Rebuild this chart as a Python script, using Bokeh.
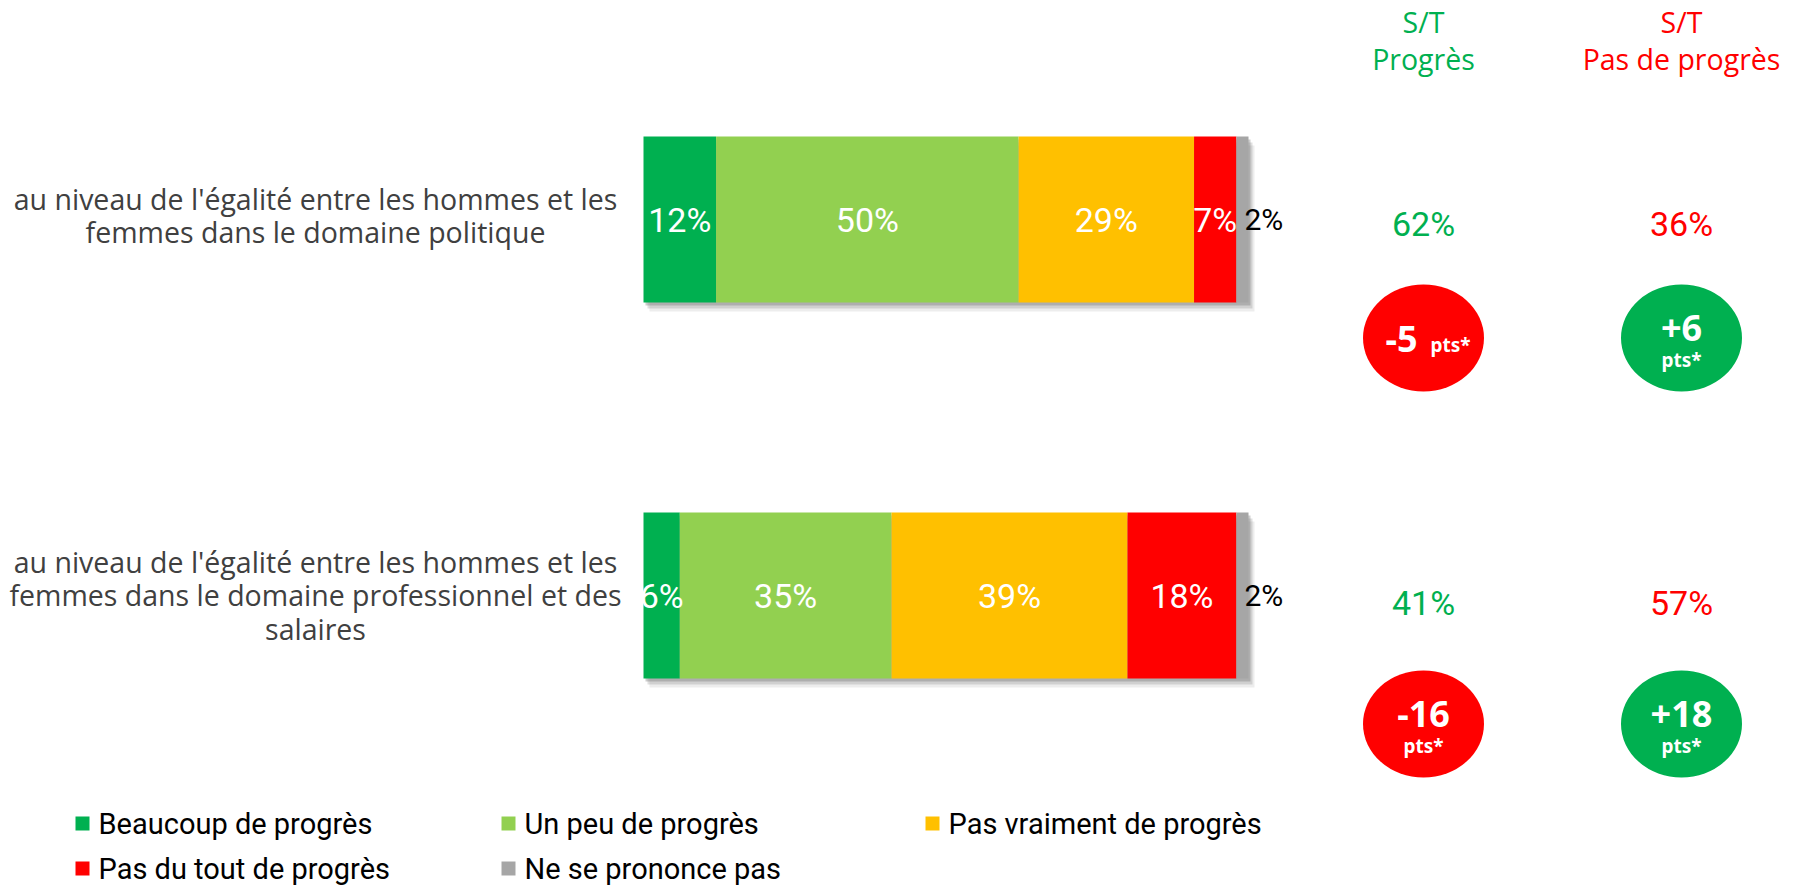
import numpy as np
from bokeh.plotting import figure
from bokeh.models import Range1d
from bokeh.embed import file_html
from bokeh.resources import INLINE
from bokeh.core.properties import value

# ---------------- data ----------------
categories = [
    "au niveau de l'égalité entre les hommes et les\nfemmes dans le domaine politique",
    "au niveau de l'égalité entre les hommes et les\nfemmes dans le domaine professionnel et des\nsalaires",
]
series_names = ["Beaucoup de progrès", "Un peu de progrès", "Pas vraiment de progrès",
                "Pas du tout de progrès", "Ne se prononce pas"]
beaucoup = [12, 6]
un_peu = [50, 35]
pas_vraiment = [29, 39]
pas_du_tout = [7, 18]
nsp = [2, 2]
st_progres = [62, 41]
st_pas_progres = [36, 57]
evol_progres = [-5, -16]
evol_pas_progres = [6, 18]
header_top = ["S/T", "S/T"]
header_bottom = ["Progrès", "Pas de progrès"]

# ---------------- styles ----------------
colors = ["#00B050", "#92D050", "#FFC000", "#FF0000", "#A6A6A6"]
GREEN = "#00B050"
RED = "#FF0000"
NARROW = "Roboto"
BODY = "Open Sans"
BOLD = "Noto Sans"

W, H = 1798, 886
X0, PXPCT = 643.0, 6.05      # pixel of 0 %, pixels per percent
Y0, ROWPX = 219.0, 376.0     # pixel of first row centre, pixels per row
BAR_H = 166.0 / ROWPX


def dx(px):
    return (px - X0) / PXPCT


def dy(py):
    return (py - Y0) / ROWPX


p = figure(width=W, height=H, x_range=Range1d(dx(0), dx(W)), y_range=Range1d(dy(H), dy(0)),
           output_backend="svg", toolbar_location=None, min_border=0,
           x_axis_type=None, y_axis_type=None)
p.grid.visible = False
p.outline_line_color = None
p.background_fill_color = "white"
p.border_fill_color = "white"

rows = np.arange(len(categories), dtype=float)
series = np.array([beaucoup, un_peu, pas_vraiment, pas_du_tout, nsp], dtype=float)
rights = np.cumsum(series, axis=0)
lefts = rights - series
totals = rights[-1]

# drop shadow
for ox, oy, a in [(2, 3, 0.35), (4, 6, 0.22), (6, 9, 0.12)]:
    p.hbar(y=rows + oy / ROWPX, left=np.zeros_like(totals) + ox / PXPCT, right=totals + ox / PXPCT,
           height=BAR_H, fill_color="#6F6F6F", fill_alpha=a, line_color=None)

# stacked segments
for i in range(len(series)):
    p.hbar(y=rows, left=lefts[i], right=rights[i], height=BAR_H,
           fill_color=colors[i], line_color=None)

# segment labels
for i in range(len(series) - 1):
    p.text(x=(lefts[i] + rights[i]) / 2, y=rows,
           text=[f"{int(v)}%" for v in series[i]],
           text_color="white", text_font=value(NARROW), text_font_size="34px",
           text_align="center", text_baseline="middle")
p.text(x=rights[-1], y=rows, x_offset=-4, text=[f"{int(v)}%" for v in series[-1]],
       text_color="black", text_font=value(NARROW), text_font_size="30px",
       text_align="left", text_baseline="middle")

# category labels
p.text(x=[dx(315)] * len(rows), y=rows - np.array([4.0, 0.0]) / ROWPX, text=categories,
       text_color="#404040", text_font=value(BODY), text_font_size="28.5px",
       text_align="center", text_baseline="middle", text_line_height=0.876)

# right columns
COL1, COL2 = dx(1423), dx(1681)
head_cols = [GREEN, RED]
p.text(x=[COL1, COL2], y=[dy(21)] * 2, text=header_top, text_color=head_cols,
       text_font=value(BODY), text_font_size="28.5px", text_align="center",
       text_baseline="middle")
p.text(x=[COL1, COL2], y=[dy(58)] * 2, text=header_bottom, text_color=head_cols,
       text_font=value(BODY), text_font_size="28.5px", text_align="center",
       text_baseline="middle")

VAL_DY = np.array([4.0, 7.0]) / ROWPX
p.text(x=[COL1] * len(rows), y=rows + VAL_DY, text=[f"{v}%" for v in st_progres],
       text_color=GREEN, text_font=value(NARROW), text_font_size="34px",
       text_align="center", text_baseline="middle")
p.text(x=[COL2] * len(rows), y=rows + VAL_DY, text=[f"{v}%" for v in st_pas_progres],
       text_color=RED, text_font=value(NARROW), text_font_size="34px",
       text_align="center", text_baseline="middle")

# evolution bubbles
CIRC_DY = np.array([118.5, 128.5]) / ROWPX
cy = rows + CIRC_DY
for col, vals in [(COL1, evol_progres), (COL2, evol_pas_progres)]:
    fills = [RED if v < 0 else GREEN for v in vals]
    p.ellipse(x=[col] * len(rows), y=cy, width=121, height=107, width_units="screen",
              height_units="screen", fill_color=fills, line_color=None)


def fmt(v):
    return f"{v:+d}"


# first bubble has "pts*" inline
p.text(x=[COL1], y=[cy[0] + 1 / ROWPX], x_offset=-6, text=[fmt(evol_progres[0])],
       text_color="white", text_font=value(BOLD), text_font_style="bold", text_font_size="36px",
       text_align="right", text_baseline="middle")
p.text(x=[COL1], y=[cy[0] + 7 / ROWPX], x_offset=7, text=["pts*"],
       text_color="white", text_font=value(BOLD), text_font_style="bold", text_font_size="19px",
       text_align="left", text_baseline="middle")
# the other bubbles have "pts*" under the number
sx = [COL2, COL1, COL2]
sy = [cy[0], cy[1], cy[1]]
sv = [evol_pas_progres[0], evol_progres[1], evol_pas_progres[1]]
p.text(x=sx, y=[v - 10.5 / ROWPX for v in sy], text=[fmt(v) for v in sv],
       text_color="white", text_font=value(BOLD), text_font_style="bold", text_font_size="36px",
       text_align="center", text_baseline="middle")
p.text(x=sx, y=[v + 22 / ROWPX for v in sy], text=["pts*"] * 3,
       text_color="white", text_font=value(BOLD), text_font_style="bold", text_font_size="19px",
       text_align="center", text_baseline="middle")

# legend (manual, 3 columns)
LEG_X = [82, 508, 932]
LEG_Y = [823, 868]
for i, name in enumerate(series_names):
    r, c = divmod(i, 3)
    p.scatter(x=[dx(LEG_X[c])], y=[dy(LEG_Y[r])], marker="square", size=14,
              fill_color=colors[i], line_color=None)
    p.text(x=[dx(LEG_X[c] + 16)], y=[dy(LEG_Y[r])], text=[name], text_color="black",
           text_font=value(NARROW), text_font_size="29px", text_align="left",
           text_baseline="middle")

open("out.html", "w").write(file_html(p, INLINE))
